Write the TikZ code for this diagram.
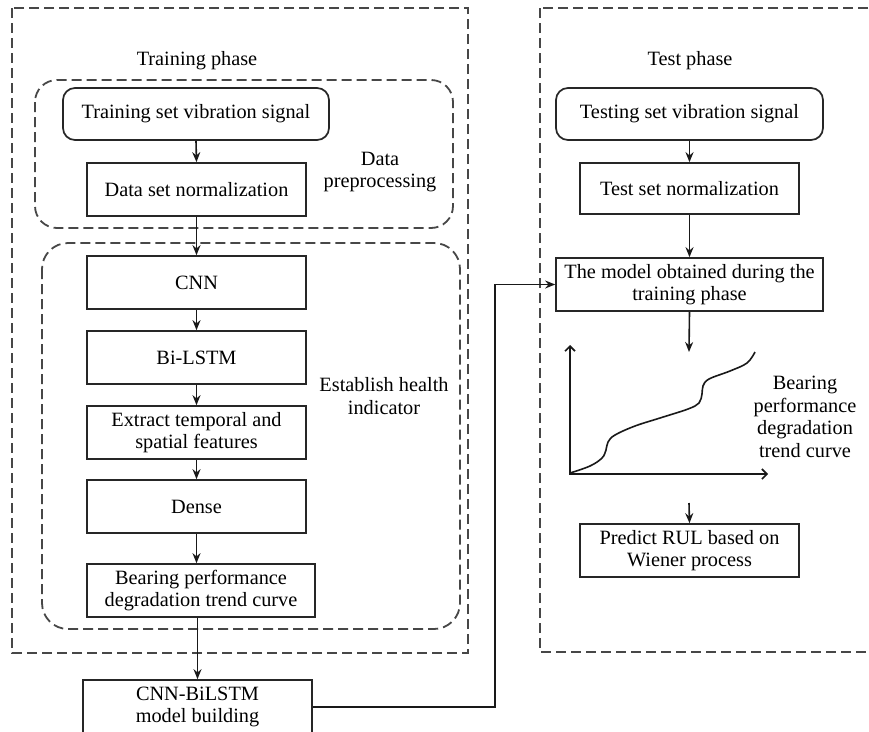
\documentclass[tikz,border=0pt]{standalone}
\usepackage{fontspec}
\setmainfont{Liberation Serif}
\usetikzlibrary{arrows.meta}
\begin{document}
\begin{tikzpicture}[x=1pt,y=-1pt,
  txt/.style={font=\fontsize{20.3}{22.5}\selectfont, align=center, inner sep=0pt},
  box/.style={txt, draw=black!85, line width=1.7pt, minimum width=219pt, minimum height=53pt},
  rbox/.style={box, rounded corners=12pt},
  dashbox/.style={draw=black!72, line width=1.8pt, dash pattern=on 10pt off 5pt},
  conn/.style={-{Stealth[length=10pt,width=8pt]}, line width=1.6pt, draw=black!90},
  axis/.style={line width=1.6pt, draw=black!90}
]
\useasboundingbox (0,0) rectangle (869,731);
\clip (0,0) rectangle (869,731);
\fill[white] (0,0) rectangle (869,731);

% dashed regions
\draw[dashbox] (12,8) rectangle (468,653);
\draw[dashbox] (540,8) rectangle (885,652);
\draw[dashbox, rounded corners=22pt] (35,80) rectangle (453,228);
\draw[dashbox, rounded corners=26pt] (42,243) rectangle (460,629);

% labels
\node[txt] (trainlbl) at (197,61) {Training phase};
\node[txt] (testlbl) at (690,61) {Test phase};
\node[txt] (prelbl) at (380,172) {Data\\preprocessing};
\node[txt] (hilbl) at (384,396) {Establish health\\indicator};
\node[txt] (curvelbl) at (805,417) {Bearing\\performance\\degradation\\trend curve};

% training column
\node[rbox, minimum width=266pt, minimum height=52pt] (trsig) at (196,114) {Training set vibration signal};
\node[box] (trnorm) at (196.5,189.5) {Data set normalization};
\node[box] (cnn) at (196.5,282.5) {CNN};
\node[box] (lstm) at (196.5,357.5) {Bi-LSTM};
\node[box] (feat) at (196.5,432.5) {Extract temporal and\\spatial features};
\node[box] (dense) at (196.5,506.5) {Dense};
\node[box, minimum width=228pt] (bear) at (201,590.5) {Bearing performance\\degradation trend curve};
\node[box, minimum width=229pt, minimum height=54pt] (cnnb) at (197.5,707) {CNN-BiLSTM\\model building};

\draw[conn] (trsig.south) -- (trnorm.north);
\draw[conn] (trnorm.south) -- (cnn.north);
\draw[conn] (cnn.south) -- (lstm.north);
\draw[conn] (lstm.south) -- (feat.north);
\draw[conn] (feat.south) -- (dense.north);
\draw[conn] (dense.south) -- (bear.north -| dense.south);
\draw[conn] (bear.south -| cnnb.north) -- (cnnb.north);

% test column
\node[rbox, minimum width=267pt, minimum height=52pt] (tesig) at (689.5,114) {Testing set vibration signal};
\node[box, minimum height=51pt] (tenorm) at (689.5,188.5) {Test set normalization};
\node[box, minimum width=267pt] (model) at (689.5,284.5) {The model obtained during the\\training phase};
\node[box] (rul) at (689.5,550.5) {Predict RUL based on\\Wiener process};

\draw[conn] (tesig.south) -- (tenorm.north);
\draw[conn] (tenorm.south) -- (model.north);
\coordinate (plottop) at (689,352);
\coordinate (plotbot) at (689,503);
\draw[conn] (model.south) -- (plottop);
\draw[conn] (plotbot) -- (rul.north);

% link
\coordinate (turn) at (495,706);
\draw[conn] (cnnb.east) -- (cnnb.east -| turn) |- (model.west);

% plot
\coordinate (origin) at (570,474);
\draw[axis, {Straight Barb[length=5pt,width=10pt]}-{Straight Barb[length=5pt,width=10pt]}] (570,345) -- (origin) -- (768,474);
\draw[axis] plot[smooth, tension=0.6] coordinates {(570,473) (590,466) (602,458) (606,450) (608,442) (615,435) (635,426) (660,418) (688,409) (699,403) (702,394) (703,386) (709,379) (730,371) (747,363) (755,352)};
\end{tikzpicture}
\end{document}
